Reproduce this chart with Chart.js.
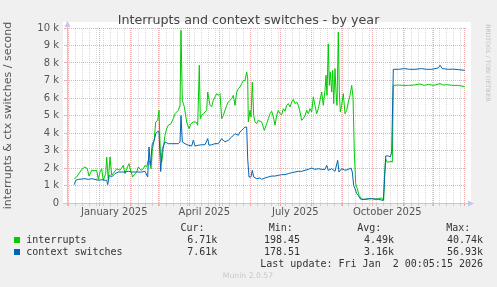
<!DOCTYPE html>
<html>
<head>
<meta charset="utf-8">
<script src="https://cdn.jsdelivr.net/npm/chart.js@4.4.0/dist/chart.umd.min.js"></script>
<style>
  html, body { margin: 0; padding: 0; background: #f0f0f0; }
  #caixa { width: 497px; height: 287px; }
</style>
</head>
<body>
<div id="caixa"><canvas id="grafico" width="497" height="287"></canvas></div>
<script>
// dias contados a partir de 1 de dezembro de 2024
var intDays = [6, 8.4, 11.7, 13.4, 15, 16.7, 19, 20.7, 23.4, 26, 28.4, 30, 31.7, 33.4, 35, 37.4, 38.4, 40, 41.7, 43.4,
  46, 48.4, 51.7, 55, 56.7, 58.4, 60.7, 62.7, 64.4, 66.7, 68.4, 70, 72.7, 75, 76.7, 78.4, 80, 81.7, 82.7, 84,
  86, 87.4, 89.4, 90.7, 92, 93.4, 95, 96.7, 98.4, 100, 102.7, 105, 106.7, 110, 111.7, 112.7, 114, 116, 118.4, 120.7,
  122.7, 125, 127.7, 129.4, 131, 132, 133.4, 135, 136.7, 138.4, 139.4, 141.7, 143.4, 145, 146.7, 148.4, 150, 151.7, 153.4, 155,
  156.7, 158.4, 160, 161.7, 163.4, 165, 166.7, 168.4, 170, 171.7, 173.4, 175, 176.7, 178.4, 179.4, 180, 181.7, 182.7, 184, 185.4,
  186.7, 188.4, 190, 193.4, 196, 198.4, 200, 201.7, 203.4, 205, 206.7, 208.4, 210, 211.7, 213.4, 215, 216.7, 218.4, 220, 221.7,
  223.4, 225, 226.7, 228.4, 230, 231.7, 233.4, 235, 236.7, 238.4, 240, 241.7, 243.4, 245, 246.7, 248.4, 250, 251.7, 253.4, 255,
  256.7, 257.7, 258.7, 260, 261, 262, 263.4, 264.4, 265.4, 266.7, 267.7, 268.7, 270, 271, 272, 273.4, 275, 276.7, 278.4, 280,
  281.7, 283.4, 284.7, 286, 287.4, 289, 290.7, 292, 293.4, 296.7, 300, 303.4, 306.7, 310, 313.4, 315.4, 316, 317.4, 318.7, 320.7,
  322.7, 324, 325, 330, 335, 340, 345, 351.7, 356, 360, 365, 371.7, 375, 378.4, 385, 390, 396.7];
var interrupts = [1390, 1490, 1770, 1920, 2000, 2060, 1960, 1540, 1870, 1850, 1870, 1350, 1770, 1960, 1300, 1680, 2630, 1300, 2630, 1580,
  1770, 1960, 1870, 2150, 1680, 1960, 2250, 1770, 1490, 1680, 1770, 2060, 1870, 1960, 2150, 2060, 2440, 2340, 1960, 3000,
  3680, 4630, 4720, 5300, 2900, 2340, 3100, 3870, 4250, 4440, 4530, 4820, 5100, 5300, 5580, 9870, 5870, 5500, 4630, 4250,
  4530, 4630, 4630, 4440, 7870, 4820, 5000, 5100, 5200, 5300, 6340, 5580, 5500, 5870, 6060, 6250, 6150, 6250, 4820, 5000,
  5300, 5580, 5770, 5870, 5960, 6150, 5580, 6340, 6530, 6630, 6820, 7000, 7000, 7490, 7100, 4630, 5300, 4900, 6900, 5000,
  4630, 4530, 4720, 4630, 4150, 4530, 4820, 5100, 5240, 4920, 4440, 5000, 5300, 5100, 5050, 5390, 5240, 5580, 5680, 5490,
  5770, 5920, 5680, 5770, 5580, 5200, 4720, 4820, 5010, 5300, 5100, 5390, 5200, 6060, 5580, 5100, 5390, 5870, 6340, 5580,
  6440, 7300, 6150, 9100, 6720, 7490, 6340, 7580, 5680, 7680, 6340, 5580, 9770, 6340, 5200, 5580, 6250, 5100, 5300, 5770,
  6150, 6720, 6060, 2910, 1100, 820, 440, 350, 210, 210, 250, 250, 210, 250, 290, 150, 1390, 2530, 2340, 2340,
  2380, 2340, 6720, 6740, 6720, 6720, 6740, 6800, 6720, 6780, 6720, 6820, 6740, 6760, 6720, 6720, 6650];

var ctxDays = [6, 7.4, 10, 13.4, 16.7, 20, 23.4, 26.7, 30, 33.4, 36.7, 38.4, 39.4, 41, 43.4, 46.7, 50, 53.4, 56.7, 60,
  63.4, 66.7, 70, 73.4, 76.7, 79.4, 80.7, 82, 84, 86, 87.4, 89.4, 90.7, 92.4, 94, 96.7, 100, 103.4, 106.7, 110,
  111.7, 112.7, 114, 116.7, 120, 123.4, 125, 126.7, 130, 133.4, 136.7, 139.4, 140.7, 143.4, 146.7, 150, 153.4, 156.7, 160, 163.4,
  166.7, 170, 171.7, 173.4, 176.7, 178.4, 179.4, 180.7, 182.7, 184, 185.4, 188.4, 191.7, 193.4, 196.7, 200, 203.4, 206.7, 210, 213.4,
  216.7, 220, 223.4, 226.7, 230, 233.4, 236.7, 240, 243.4, 246.7, 250, 253.4, 256.7, 258.4, 260, 263.4, 266.7, 269.4, 270.7, 273.4,
  276.7, 280, 282.7, 284, 285.4, 286.7, 288.4, 290, 291.7, 293.4, 296.7, 303.4, 310, 315, 316, 317.4, 320, 322, 323.4, 325,
  330, 336.7, 341, 346.7, 353.4, 358, 363.4, 370, 371.7, 374, 380, 385, 390, 396.7];
var ctxSwitches = [1050, 1300, 1350, 1370, 1390, 1350, 1390, 1350, 1300, 1330, 1300, 1300, 1050, 1580, 1490, 1680, 1770, 1770, 1770, 1810,
  1770, 1770, 1770, 1770, 1810, 1490, 3200, 2150, 3390, 3580, 3960, 4100, 4060, 1800, 3100, 3490, 3390, 3390, 3390, 3390,
  3490, 5000, 3490, 3390, 3300, 3260, 3580, 3260, 3300, 3330, 3330, 3680, 3300, 3330, 3390, 3390, 3680, 3490, 3580, 3770,
  3960, 3870, 4060, 4150, 4340, 4340, 2530, 1490, 1490, 1870, 1490, 1390, 1430, 1350, 1430, 1490, 1540, 1540, 1580, 1620,
  1620, 1680, 1730, 1770, 1810, 1810, 1870, 1920, 2000, 1920, 1960, 1920, 1920, 2150, 1870, 1960, 1810, 2440, 1770, 1960,
  1870, 1920, 2000, 1770, 1000, 820, 530, 440, 250, 210, 210, 250, 210, 150, 1050, 2690, 2690, 2630, 2910, 7640,
  7640, 7680, 7640, 7640, 7680, 7640, 7640, 7720, 7870, 7680, 7640, 7650, 7620, 7580];

var quarterLabels = ['January 2025', 'April 2025', 'July 2025', 'October 2025'];
var quarterDays = [46, 136, 227, 319];
var yTickLabels = ['0', '1 k', '2 k', '3 k', '4 k', '5 k', '6 k', '7 k', '8 k', '9 k', '10 k'];

var legendNames = ['interrupts', 'context switches'];
var legendColors = ['#00cc00', '#0066b3'];
var curValues = ['6.71k', '7.61k'];
var minValues = ['198.45', '178.51'];
var avgValues = ['4.49k', '3.16k'];
var maxValues = ['40.74k', '56.93k'];

var corMaior = 'rgba(225, 60, 60, 0.42)';
var corMenor = 'rgba(120, 120, 120, 0.28)';
var corEixo = '#c4c4f2';

var inicio = Date.UTC(2024, 11, 1);
function diaDe(ano, mes, dia) {
    return (Date.UTC(ano, mes, dia) - inicio) / 86400000;
}

// marcas do eixo x: semanas (cinza), inicio de mes (vermelho), rotulos
var marcas = {};
for (var d = 0; d <= 398; d += 7) marcas[d] = 'semana';
for (var m = 0; m <= 13; m++) marcas[diaDe(2024, 11 + m, 1)] = 'mes';
quarterDays.forEach(function(q) { marcas[q] = 'rotulo'; });
var valoresX = Object.keys(marcas).map(Number).sort(function(a, b) { return a - b; });

function pontos(dias, valores) {
    return dias.map(function(x, i) { return {x: x, y: valores[i]}; });
}

function corX(c) {
    var k = c.tick ? marcas[c.tick.value] : null;
    return k === 'mes' ? corMaior : (k === 'semana' ? corMenor : 'rgba(0,0,0,0)');
}
function corY(c) {
    return c.tick && c.tick.value % 1000 === 0 ? corMaior : corMenor;
}

var fundoPlugin = {
    id: 'fundo',
    beforeDraw: function(chart) {
        var ctx = chart.ctx, a = chart.chartArea;
        ctx.save();
        ctx.fillStyle = '#f0f0f0';
        ctx.fillRect(0, 0, chart.width, chart.height);
        ctx.fillStyle = '#ffffff';
        ctx.fillRect(a.left - 4, a.top - 6, a.right - a.left + 8, a.bottom - a.top + 6);
        ctx.restore();
    },
    afterDraw: function(chart) {
        var ctx = chart.ctx, a = chart.chartArea;
        ctx.save();
        // setas dos eixos
        ctx.fillStyle = corEixo;
        ctx.beginPath();
        ctx.moveTo(a.left + 0.5, a.top - 7);
        ctx.lineTo(a.left - 2.5, a.top - 1);
        ctx.lineTo(a.left + 3.5, a.top - 1);
        ctx.fill();
        ctx.beginPath();
        ctx.moveTo(a.right + 7, a.bottom + 0.5);
        ctx.lineTo(a.right + 1, a.bottom - 2.5);
        ctx.lineTo(a.right + 1, a.bottom + 3.5);
        ctx.fill();
        ctx.strokeStyle = corEixo;
        ctx.lineWidth = 1;
        ctx.beginPath();
        ctx.moveTo(a.left - 4, a.bottom + 0.5);
        ctx.lineTo(a.right + 2, a.bottom + 0.5);
        ctx.moveTo(a.left + 0.5, a.bottom + 3);
        ctx.lineTo(a.left + 0.5, a.top - 2);
        ctx.stroke();

        // marca d'agua
        ctx.fillStyle = '#c2c2c2';
        ctx.font = '6px DejaVu Sans';
        ctx.textAlign = 'center';
        ctx.textBaseline = 'middle';
        ctx.translate(488, 63);
        ctx.rotate(Math.PI / 2);
        ctx.fillText('RRDTOOL / TOBI OETIKER', 0, 0);
        ctx.setTransform(1, 0, 0, 1, 0, 0);

        // legenda
        ctx.font = '10px DejaVu Sans Mono';
        ctx.textBaseline = 'alphabetic';
        ctx.fillStyle = '#333333';
        ctx.textAlign = 'left';
        ctx.fillText('Cur:', 180.5, 230.5);
        ctx.fillText('Min:', 268.8, 230.5);
        ctx.fillText('Avg:', 357.2, 230.5);
        ctx.fillText('Max:', 446.2, 230.5);
        for (var i = 0; i < legendNames.length; i++) {
            var y = 242.5 + i * 12;
            ctx.fillStyle = legendColors[i];
            ctx.fillRect(14, y - 5.5, 6, 6);
            ctx.fillStyle = '#333333';
            ctx.textAlign = 'left';
            ctx.fillText(legendNames[i], 26.3, y);
            ctx.textAlign = 'right';
            ctx.fillText(curValues[i], 217.3, y);
            ctx.fillText(minValues[i], 300, y);
            ctx.fillText(avgValues[i], 394, y);
            ctx.fillText(maxValues[i], 483, y);
        }
        ctx.fillText('Last update: Fri Jan  2 00:05:15 2026', 483, 266.5);
        ctx.textAlign = 'center';
        ctx.fillStyle = '#c8c8c8';
        ctx.font = '7.7px DejaVu Sans';
        ctx.fillText('Munin 2.0.57', 248, 278);
        ctx.restore();
    }
};

var config = {
    type: 'line',
    data: {
        datasets: [{
            label: legendNames[0],
            data: pontos(intDays, interrupts),
            borderColor: legendColors[0],
            borderWidth: 1,
            order: 1
        }, {
            label: legendNames[1],
            data: pontos(ctxDays, ctxSwitches),
            borderColor: legendColors[1],
            borderWidth: 1,
            order: 0
        }]
    },
    options: {
        responsive: false,
        devicePixelRatio: 1,
        animation: false,
        layout: { padding: 0 },
        elements: { point: { radius: 0 }, line: { tension: 0 } },
        plugins: {
            legend: { display: false },
            tooltip: { enabled: false },
            title: {
                display: true,
                text: 'Interrupts and context switches - by year',
                color: '#444444',
                font: { family: 'DejaVu Sans', size: 12.7, weight: 'normal', lineHeight: 1 },
                padding: { top: 14.5, bottom: 0.8 }
            }
        },
        scales: {
            x: {
                type: 'linear',
                min: -1.3,
                max: 398.7,
                afterFit: function(scale) { scale.height = 84; },
                afterBuildTicks: function(scale) {
                    scale.ticks = valoresX.map(function(v) { return {value: v}; });
                },
                ticks: {
                    autoSkip: false,
                    maxRotation: 0,
                    padding: 0,
                    color: '#555555',
                    font: { family: 'DejaVu Sans', size: 10 },
                    callback: function(value) {
                        var i = quarterDays.indexOf(value);
                        return i >= 0 ? quarterLabels[i] : '';
                    }
                },
                grid: { color: corX, tickColor: corX, tickLength: 3 },
                border: { display: false, dash: [1, 1] }
            },
            y: {
                min: 0,
                max: 10000,
                afterFit: function(scale) { scale.width = 67; },
                ticks: {
                    stepSize: 500,
                    padding: 5,
                    color: '#555555',
                    font: { family: 'DejaVu Sans', size: 10 },
                    callback: function(value) {
                        return value % 1000 === 0 ? yTickLabels[value / 1000] : '';
                    }
                },
                grid: { color: corY, tickColor: corY, tickLength: 3 },
                border: { display: false, dash: [1, 1] },
                title: {
                    display: true,
                    text: 'interrupts & ctx switches / second',
                    color: '#555555',
                    font: { family: 'DejaVu Sans', size: 11 },
                    padding: { top: 2, bottom: 0 }
                }
            },
            // eixo vazio a direita, so para reservar a margem
            margemDireita: {
                type: 'linear',
                position: 'right',
                afterFit: function(scale) { scale.width = 30; },
                ticks: { display: false },
                grid: { display: false, drawTicks: false },
                border: { display: false }
            }
        }
    },
    plugins: [fundoPlugin]
};

new Chart(document.getElementById('grafico').getContext('2d'), config);
</script>
</body>
</html>
